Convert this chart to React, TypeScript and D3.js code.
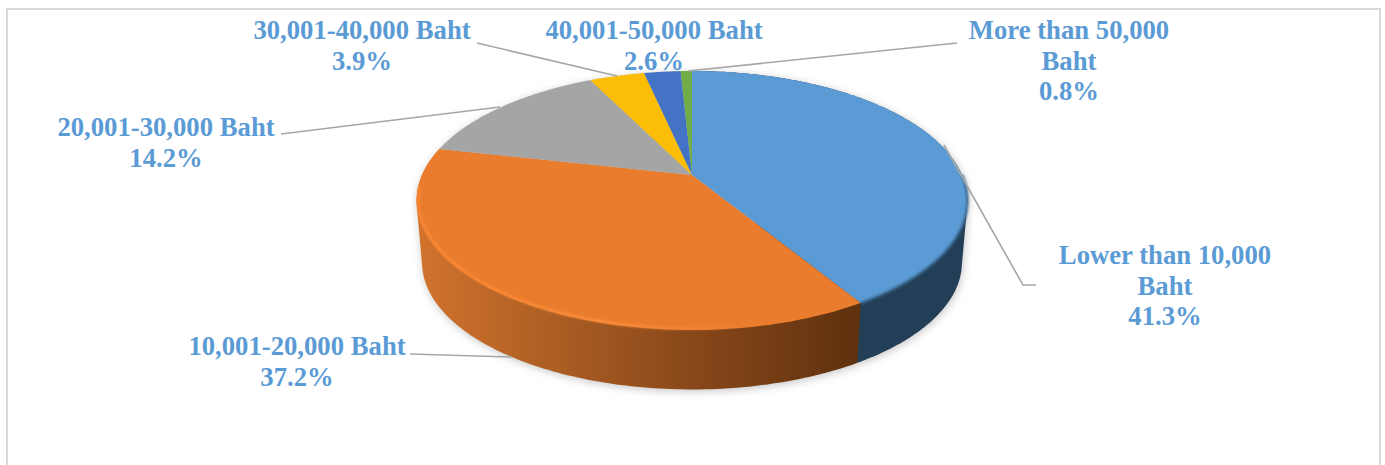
import React from "react";
import * as d3 from "d3";

// Monthly income bands and their share of respondents, in percent.
const bands = [
  "Lower than 10,000 Baht",
  "10,001-20,000 Baht",
  "20,001-30,000 Baht",
  "30,001-40,000 Baht",
  "40,001-50,000 Baht",
  "More than 50,000 Baht",
];
const shares = [41.3, 37.2, 14.2, 3.9, 2.6, 0.8];
const topColors = ["#5b9bd5", "#ea7c2e", "#a5a5a5", "#fbbd05", "#4472c4", "#70ad47"];

// Wrapped label lines for each band.
const labelLines = [
  ["Lower than 10,000", "Baht"],
  ["10,001-20,000 Baht"],
  ["20,001-30,000 Baht"],
  ["30,001-40,000 Baht"],
  ["40,001-50,000 Baht"],
  ["More than 50,000", "Baht"],
];

// Label anchors and leader-line routes, in chart pixels.
const labelAnchors: [number, number][] = [
  [1165, 264],
  [297, 355],
  [166, 136],
  [362, 39],
  [654, 39],
  [1069, 39],
];
const leaders: ([number, number][] | null)[] = [
  [[1036, 285], [1023, 285], [944, 145]],
  [[410, 354], [512, 357]],
  [[281, 134], [500, 107]],
  [[477, 43], [617, 76]],
  null,
  [[957, 43], [688, 71]],
];

const WIDTH = 1385;
const HEIGHT = 465;
const LINE_HEIGHT = 30.5;

// Perspective projection of the disc: apex on screen, tilt and foreshortening.
const APEX_X = 692;
const APEX_Y = 175;
const RADIUS_X = 270;
const RADIUS_Y = 124.5;
const TILT = 0.197;
// The lower face of the disc sits further from the viewer.
const FACE_CENTRE_Y = 200.5;
const LOWER_SCALE = 0.98;
const LOWER_DROP = 62;

type Pt = [number, number];

const project = (angle: number, r = 1): Pt => {
  const u = Math.sin(angle) * r;
  const v = -Math.cos(angle) * r;
  const s = 1 / (1 - TILT * v);
  return [APEX_X + RADIUS_X * u * s, APEX_Y + RADIUS_Y * v * s];
};

const lower = ([x, y]: Pt): Pt => [
  APEX_X + (x - APEX_X) * LOWER_SCALE,
  FACE_CENTRE_Y + LOWER_DROP + (y - FACE_CENTRE_Y) * LOWER_SCALE,
];

const arcAngles = (a0: number, a1: number): number[] => {
  const n = Math.max(3, Math.ceil(((a1 - a0) * 180) / Math.PI));
  return d3.range(n + 1).map((i) => a0 + ((a1 - a0) * i) / n);
};

const line = d3.line<Pt>();
const closed = (pts: Pt[]) => (line(pts) as string) + "Z";

const arcs = d3
  .pie<number>()
  .sort(null)
  .value((d) => d)(shares);

const topFace = (a0: number, a1: number) =>
  closed([[APEX_X, APEX_Y], ...arcAngles(a0, a1).map((a) => project(a))]);

// Side wall of a slice: the hull of its upper and lower arcs. The chord it
// closes with stays hidden under the top face.
const wall = (a0: number, a1: number) =>
  closed(
    d3.polygonHull(
      arcAngles(a0, a1).flatMap((a) => {
        const t = project(a);
        return [t, lower(t)];
      })
    ) as Pt[]
  );

const wholeDisc = wall(0, Math.PI * 2);

// Only the front-facing slices show a side wall.
const wallFills = ["#233f57", "url(#orangeWall)"];

export default function App() {
  const [blue, orange] = arcs;
  return (
    <svg
      width={WIDTH}
      height={HEIGHT}
      viewBox={`0 0 ${WIDTH} ${HEIGHT}`}
      style={{ position: "absolute", left: 0, top: 0, background: "#fff" }}
    >
      <defs>
        <linearGradient id="orangeWall" gradientUnits="userSpaceOnUse" x1={420} x2={858} y1={0} y2={0}>
          <stop offset="0" stopColor="#d1732d" />
          <stop offset="0.3" stopColor="#ad5e24" />
          <stop offset="0.65" stopColor="#854619" />
          <stop offset="1" stopColor="#5f310e" />
        </linearGradient>
        <linearGradient id="orangeRim" gradientUnits="userSpaceOnUse" x1={420} x2={760} y1={0} y2={0}>
          <stop offset="0" stopColor="#fb8a36" stopOpacity={0.9} />
          <stop offset="0.55" stopColor="#ff9440" stopOpacity={0.85} />
          <stop offset="1" stopColor="#ff9440" stopOpacity={0} />
        </linearGradient>
        <filter id="castShadow" x="-10%" y="-10%" width="120%" height="120%">
          <feGaussianBlur stdDeviation={4} />
        </filter>
        <filter id="soften" x="-5%" y="-5%" width="110%" height="110%">
          <feGaussianBlur stdDeviation={0.9} />
        </filter>
      </defs>

      <rect x={7} y={9} width={1373} height={480} fill="#fff" stroke="#d9d9d9" strokeWidth={2} />

      <path d={wholeDisc} transform="translate(1,2)" fill="#9a9a9a" opacity={0.55} filter="url(#castShadow)" />

      {[blue, orange].map((a, i) => (
        <path key={bands[i]} d={wall(a.startAngle, a.endAngle)} fill={wallFills[i]} />
      ))}

      {arcs.map((a, i) => (
        <path key={bands[i]} d={topFace(a.startAngle, a.endAngle)} fill={topColors[i]} />
      ))}

      {/* Bevel along the front of the top face */}
      <path
        d={line(arcAngles(Math.PI * 0.9, Math.PI * 1.47).map((a) => project(a, 0.993))) as string}
        fill="none"
        stroke="url(#orangeRim)"
        strokeWidth={2.5}
        filter="url(#soften)"
      />
      <path
        d={line(arcAngles(Math.PI * 0.5, blue.endAngle).map((a) => project(a))) as string}
        fill="none"
        stroke="#3d6c94"
        strokeWidth={2.5}
        filter="url(#soften)"
      />

      {leaders.map((route, i) =>
        route ? (
          <path key={bands[i]} d={line(route) as string} fill="none" stroke="#a6a6a6" strokeWidth={1.6} />
        ) : null
      )}

      <g
        fontFamily="'Liberation Serif', serif"
        fontWeight={700}
        fontSize={26.7}
        fill="#5b9bd5"
        textAnchor="middle"
      >
        {bands.map((band, i) => {
          const [x, y] = labelAnchors[i];
          const lines = [...labelLines[i], `${shares[i].toFixed(1)}%`];
          return (
            <text key={band} x={x} y={y}>
              {lines.map((t, j) => (
                <tspan key={j} x={x} y={y + j * LINE_HEIGHT}>
                  {t}
                </tspan>
              ))}
            </text>
          );
        })}
      </g>
    </svg>
  );
}
